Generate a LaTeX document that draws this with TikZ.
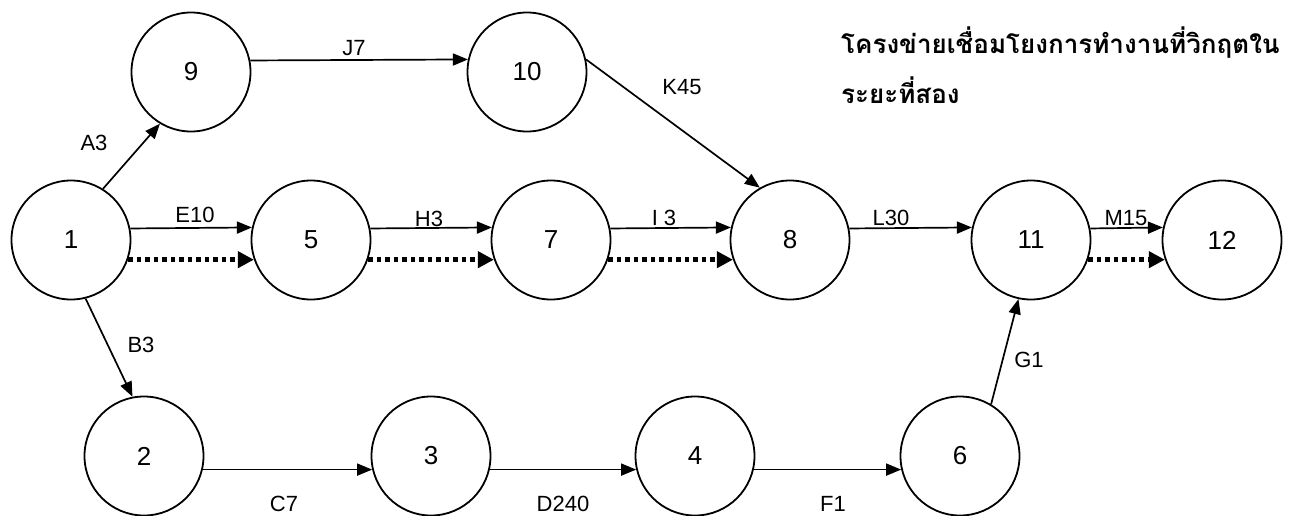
\documentclass[tikz,border=0pt]{standalone}
\usepackage{fontspec}
\setmainfont{Liberation Sans}
\newfontfamily\thaifont[Script=Thai]{Loma}
\usetikzlibrary{arrows.meta}
\tikzset{
  event/.style={circle, draw, line width=1.8pt, minimum size=119pt, inner sep=0pt,
                font=\fontsize{26}{30}\selectfont},
  act/.style={line width=1.7pt, -{Triangle[length=15pt,width=12pt]}},
  crit/.style={line width=4.5pt, dash pattern=on 4.5pt off 4pt,
               -{Triangle[length=16pt,width=16pt]}},
  tag/.style={font=\fontsize{22}{26}\selectfont, inner sep=0pt},
  heading/.style={font=\thaifont\bfseries\fontsize{26}{30}\selectfont, anchor=west, inner sep=0pt}
}
\begin{document}
\begin{tikzpicture}[x=1pt,y=-1pt]
  \fill[white] (0,0) rectangle (1293,515);
  \useasboundingbox (0,0) rectangle (1293,515);
  \clip (0,0) rectangle (1293,515);

  % events
  \node[event] (n9)  at (191,72)  {9};
  \node[event] (n10) at (527,72)  {10};
  \node[event] (n1)  at (71,240)  {1};
  \node[event] (n5)  at (311,240) {5};
  \node[event] (n7)  at (551,240) {7};
  \node[event] (n8)  at (790,240) {8};
  \node[event] (n11) at (1031,240) {11};
  \node[event] (n12) at (1222,240) {12};
  \node[event] (n2)  at (144,456) {2};
  \node[event] (n3)  at (431,456) {3};
  \node[event] (n4)  at (695,456) {4};
  \node[event] (n6)  at (960,456) {6};

  % activities
  \draw[act] (n1.58)    -- (n9.239.7);
  \draw[act] (n9.11.5)  -- (n10.168.5);
  \draw[act] (n10.12)   -- (n8.120.5);
  \draw[act] (n1.11.5)  -- (n5.168.5);
  \draw[act] (n5.11.5)  -- (n7.168.5);
  \draw[act] (n7.11.5)  -- (n8.168.5);
  \draw[act] (n8.11.5)  -- (n11.168.5);
  \draw[act] (n11.11.5) -- (n12.168.5);
  \draw[act] (n1.-76.3) -- (n2.101.5);
  \draw[act] (n2.-13.5) -- (n3.193.5);
  \draw[act] (n3.-13.5) -- (n4.193.5);
  \draw[act] (n4.-13.5) -- (n6.193.5);
  \draw[act] (n6.59.7)  -- (n11.-102.5);

  % critical path
  \draw[crit] (n1.-19.5)  -- (n5.199.5);
  \draw[crit] (n5.-19.5)  -- (n7.199.5);
  \draw[crit] (n7.-19.5)  -- (n8.199.5);
  \draw[crit] (n11.-19.5) -- (n12.199.5);

  % activity labels
  \node[tag] (tA3)   at (94,143)   {A3};
  \node[tag] (tJ7)   at (354,48)   {J7};
  \node[tag] (tK45)  at (682,87)   {K45};
  \node[tag] (tE10)  at (195,215)  {E10};
  \node[tag] (tH3)   at (429,219)  {H3};
  \node[tag] (tI3)   at (664,218)  {I 3};
  \node[tag] (tL30)  at (891,218)  {L30};
  \node[tag] (tM15)  at (1126,218) {M15};
  \node[tag] (tB3)   at (141,345)  {B3};
  \node[tag] (tG1)   at (1029,360) {G1};
  \node[tag] (tC7)   at (284,504)  {C7};
  \node[tag] (tD240) at (563,504)  {D240};
  \node[tag] (tF1)   at (833,504)  {F1};

  % heading
  \node[heading] (h1) at (841,43) {โครงข่ายเชื่อมโยงการทำงานที่วิกฤตใน};
  \node[heading] (h2) at (841,90) {ระยะที่สอง};
\end{tikzpicture}
\end{document}
